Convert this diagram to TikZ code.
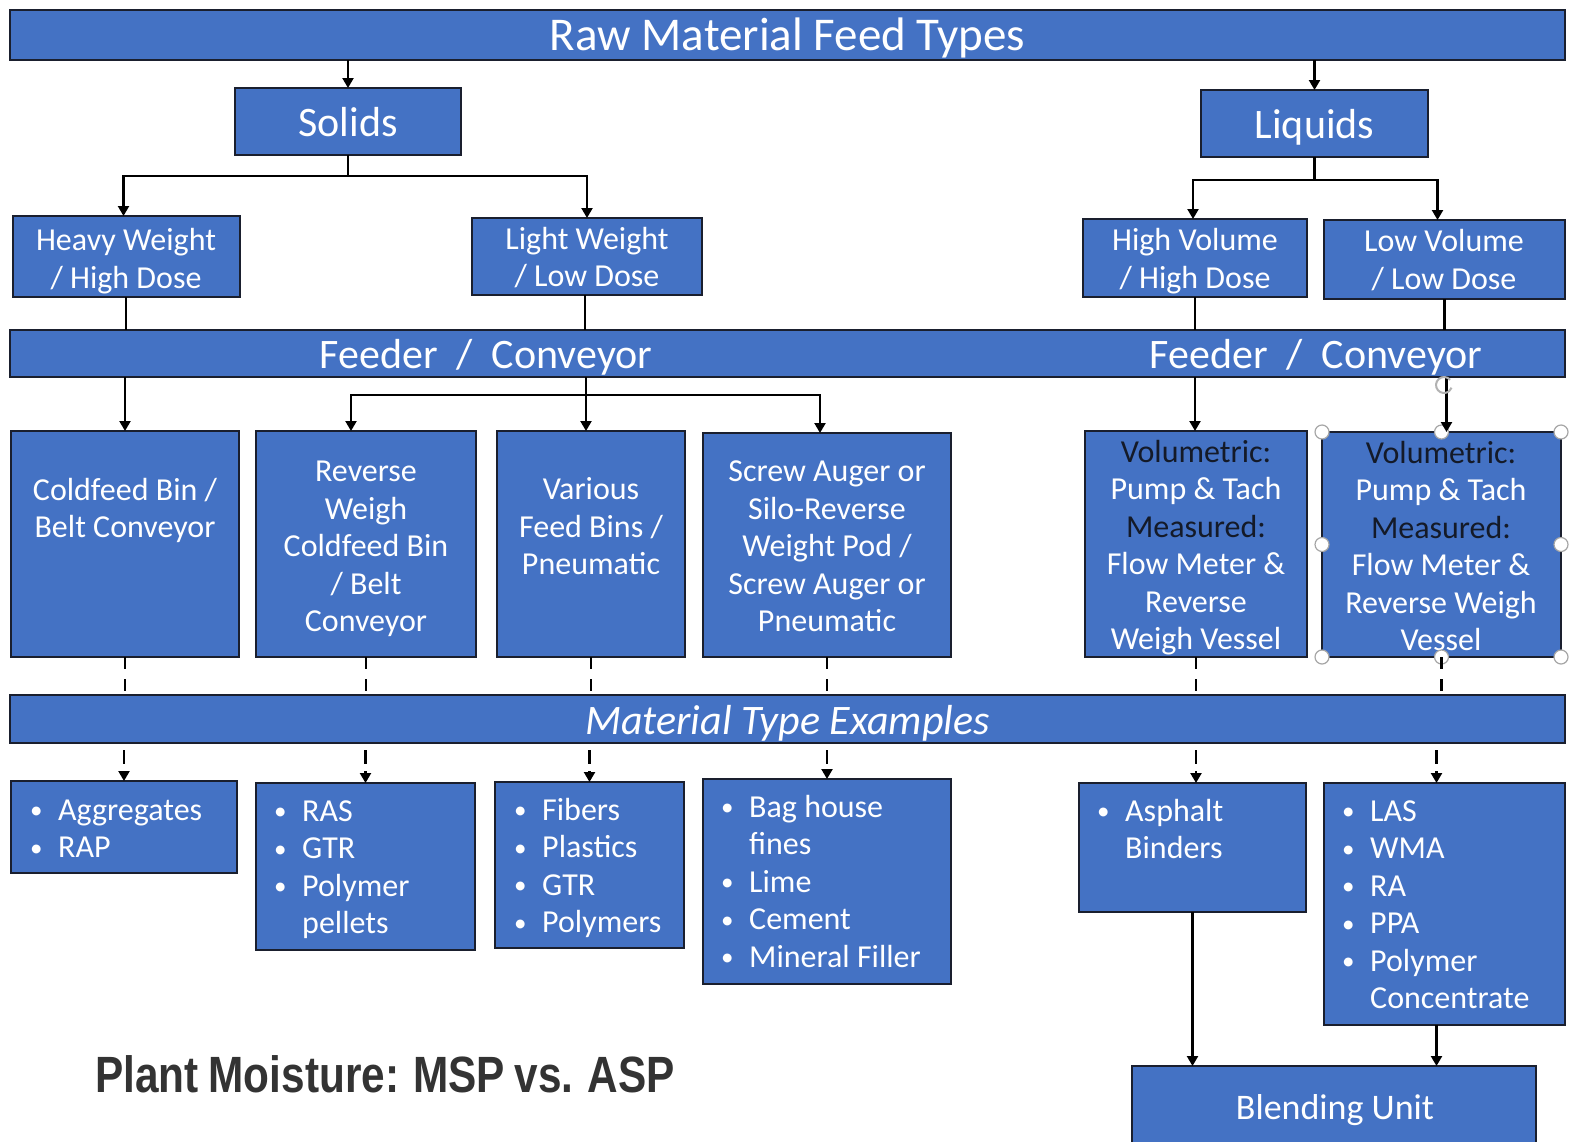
\documentclass[tikz,border=0pt]{standalone}
\usepackage{fontspec}
\setmainfont{Carlito}
\newfontfamily\condfont[FakeStretch=0.83,WordSpace=0.85]{Liberation Sans Bold}
\usetikzlibrary{arrows.meta}
\definecolor{boxblue}{HTML}{4472C4}
\definecolor{edgecol}{HTML}{1A1F2E}
\definecolor{darktxt}{HTML}{141A28}
\definecolor{titlecol}{HTML}{333333}
\newcommand{\bul}{\makebox[31pt][l]{\hspace{3pt}\raisebox{1.5pt}{\fontsize{25}{25}\selectfont •}}}
\newcommand{\itm}[1]{\strut\bul#1}
\newcommand{\cnt}[1]{\strut\hspace*{31pt}#1}
\newcommand{\dk}[1]{{\color{darktxt}#1}}
\begin{document}
\begin{tikzpicture}[x=1pt,y=-1pt,
  box/.style={draw=edgecol, fill=boxblue, line width=2.6pt, inner sep=0pt, outer sep=0pt},
  hdr/.style={text=white, font=\fontsize{42}{50}\selectfont, text height=36pt, text depth=6pt},
  lbl/.style={text=white, inner sep=0pt, align=center, font=\fontsize{32}{37.5}\selectfont},
  lst/.style={text=white, inner sep=0pt, align=left, anchor=north west, font=\fontsize{32}{37.5}\selectfont},
  conn/.style={line width=2.2pt, draw=black},
  arr/.style={conn, -{Triangle[width=11pt,length=10pt]}},
  dsh/.style={conn, dash pattern=on 12pt off 10pt},
  dsharr/.style={conn, dash pattern=on 14pt off 7pt, dash phase=14pt, -{Triangle[width=11pt,length=10pt]}},
  handle/.style={draw=gray!70, fill=white, line width=1.2pt}
]
\useasboundingbox (0,0) rectangle (1570,1141);
\fill[white] (0,0) rectangle (1570,1141);

% header bars
\node[box, minimum width=1555, minimum height=50, hdr, font=\fontsize{47}{56}\selectfont, text height=38pt, text depth=7pt] (top) at (787.5,35) {Raw Material Feed Types};
\node[box, minimum width=1555, minimum height=47] (feeder) at (787.5,353.5) {};
\node[lbl, font=\fontsize{42}{50}\selectfont] (feedl) at (486,357.5) {Feeder\ \ /\ \ Conveyor};
\node[lbl, font=\fontsize{42}{50}\selectfont] (feedr) at (1316,357.5) {Feeder\ \ /\ \ Conveyor};
\node[box, minimum width=1555, minimum height=48, hdr, font=\fontsize{42}{50}\selectfont\itshape] (mat) at (787.5,719) {Material Type Examples};

% level 1
\node[box, minimum width=226, minimum height=67, hdr] (solids) at (348,121.5) {Solids};
\node[box, minimum width=227, minimum height=67, hdr] (liquids) at (1314.5,123.5) {Liquids};

% level 2
\node[box, minimum width=227, minimum height=81] (heavy) at (126.5,256.5) {};
\node[lbl] (heavyt) at (126,262) {\strut Heavy Weight\\\strut / High Dose};
\node[box, minimum width=230, minimum height=77] (light) at (587,256.5) {};
\node[lbl] (lightt) at (587,260.5) {\strut Light Weight\\\strut / Low Dose};
\node[box, minimum width=224, minimum height=78] (highv) at (1195,258) {};
\node[lbl] (highvt) at (1195,262) {\strut High Volume\\\strut / High Dose};
\node[box, minimum width=241, minimum height=79] (lowv) at (1444.5,259.5) {};
\node[lbl] (lowvt) at (1444,263) {\strut Low Volume\\\strut / Low Dose};

% level 3
\node[box, minimum width=228, minimum height=226] (cold) at (125,544) {};
\node[lbl] (coldt) at (125,511.5) {\strut Coldfeed Bin /\\\strut Belt Conveyor};
\node[box, minimum width=220, minimum height=226] (rev) at (366,544) {};
\node[lbl] (revt) at (366,549) {\strut Reverse\\\strut Weigh\\\strut Coldfeed Bin\\\strut / Belt\\\strut Conveyor};
\node[box, minimum width=188, minimum height=226] (var) at (591,544) {};
\node[lbl] (vart) at (591,529.5) {\strut Various\\\strut Feed Bins /\\\strut Pneumatic};
\node[box, minimum width=248, minimum height=224] (screw) at (827,545) {};
\node[lbl] (screwt) at (827,549) {\strut Screw Auger or\\\strut Silo-Reverse\\\strut Weight Pod /\\\strut Screw Auger or\\\strut Pneumatic};
\node[box, minimum width=222, minimum height=226] (volh) at (1196,544) {};
\node[lbl] (volht) at (1196,548.5) {\strut\dk{Volumetric:}\\\strut Pump \& Tach\\\strut\dk{Measured:}\\\strut Flow Meter \&\\\strut Reverse\\\strut Weigh Vessel};
\node[box, minimum width=239, minimum height=225] (voll) at (1441.5,544.5) {};
\node[lbl] (vollt) at (1441,549.5) {\strut\dk{Volumetric:}\\\strut Pump \& Tach\\\strut\dk{Measured:}\\\strut Flow Meter \&\\\strut Reverse Weigh\\\strut Vessel};
\foreach \a in {north west,north,north east,east,south east,south,south west,west}
  \draw[handle] (voll.\a) circle (7pt);

% level 4
\node[box, minimum width=226, minimum height=92] (agg) at (124,827) {};
\node[lst] (aggt) at (27,794) {\itm{Aggregates}\\\itm{RAP}};
\node[box, minimum width=219, minimum height=167] (ras) at (365.5,866.5) {};
\node[lst] (rast) at (271,795) {\itm{RAS}\\\itm{GTR}\\\itm{Polymer}\\\cnt{pellets}};
\node[box, minimum width=189, minimum height=166] (fib) at (589.5,865) {};
\node[lst] (fibt) at (511,794) {\itm{Fibers}\\\itm{Plastics}\\\itm{GTR}\\\itm{Polymers}};
\node[box, minimum width=248, minimum height=205] (bag) at (827,881.5) {};
\node[lst] (bagt) at (718,791) {\itm{Bag house}\\\cnt{fines}\\\itm{Lime}\\\itm{Cement}\\\itm{Mineral Filler}};
\node[box, minimum width=227, minimum height=129] (asp) at (1192.5,847.5) {};
\node[lst] (aspt) at (1094,795) {\itm{Asphalt}\\\cnt{Binders}};
\node[box, minimum width=241, minimum height=242] (las) at (1444.5,904) {};
\node[lst] (last) at (1339,795) {\itm{LAS}\\\itm{WMA}\\\itm{RA}\\\itm{PPA}\\\itm{Polymer}\\\cnt{Concentrate}};

% blending unit
\node[box, minimum width=404, minimum height=84] (blend) at (1334,1108) {};
\node[lbl, font=\fontsize{36}{43}\selectfont] (blendt) at (1335,1110) {Blending Unit};

% title
\node[anchor=base west, inner sep=0pt, text=titlecol, font=\condfont\fontsize{51}{60}\selectfont] (ttl) at (95,1092) {Plant Moisture: MSP vs. ASP};

% connectors top
\draw[arr] (top.south -| solids.north) -- (solids.north);
\draw[arr] (top.south -| liquids.north) -- (liquids.north);
\draw[arr] (solids.south) -- ++(0,21) -| ([xshift=-3pt]heavy.north);
\draw[arr] (solids.south) -- ++(0,21) -| (light.north);
\draw[arr] (liquids.south) -- ++(0,23) -| ([xshift=-2pt]highv.north);
\draw[arr] (liquids.south) -- ++(0,23) -| ([xshift=-7pt]lowv.north);

\draw[conn] (heavy.south -| heavyt) -- (feeder.north -| heavyt);
\draw[conn] ([xshift=-2pt]light.south) -- ([xshift=-2pt]feeder.north -| light.south);
\draw[conn] (highv.south) -- (feeder.north -| highv.south);
\draw[conn] (lowv.south) -- (feeder.north -| lowv.south);

% feeder to level 3
\draw[arr] (feeder.south -| cold.north) -- (cold.north);
\draw[arr] ([xshift=-1pt]feeder.south -| light.south) -- ++(0,18) -| ([xshift=-15pt]rev.north);
\draw[arr] ([xshift=-1pt]feeder.south -| light.south) -- ++(0,18) -| ([xshift=-7pt]screw.north);
\draw[arr] ([xshift=-1pt]feeder.south -| light.south) -- ([xshift=-1pt]var.north -| light.south);
\draw[arr] (feeder.south -| highv.south) -- (volh.north -| highv.south);
\draw[arr] ([xshift=5pt]feeder.south -| voll.north) -- ([xshift=5pt]voll.north);

% rotate handle
\draw[gray!60, line width=2pt] (1444,385) ++(40:8pt) arc (40:340:8pt);

% level 3 to material bar
\foreach \n in {cold,rev,var,screw,volh,voll}
  \draw[dsh] (\n.south) -- (mat.north -| \n.south);

% material bar to level 4
\draw[dsharr] (mat.south -| agg.north) -- (agg.north);
\draw[dsharr] (mat.south -| ras.north) -- (ras.north);
\draw[dsharr] (mat.south -| fib.north) -- (fib.north);
\draw[dsharr] (mat.south -| bag.north) -- (bag.north);
\draw[dsharr] (mat.south -| volh.south) -- (asp.north -| volh.south);
\draw[dsharr] ([xshift=-5pt]mat.south -| voll.south) -- ([xshift=-5pt]las.north -| voll.south);

% to blending unit
\draw[arr] (asp.south) -- (blend.north -| asp.south);
\draw[arr] ([xshift=-8pt]las.south) -- ([xshift=-8pt]blend.north -| las.south);
\end{tikzpicture}
\end{document}
